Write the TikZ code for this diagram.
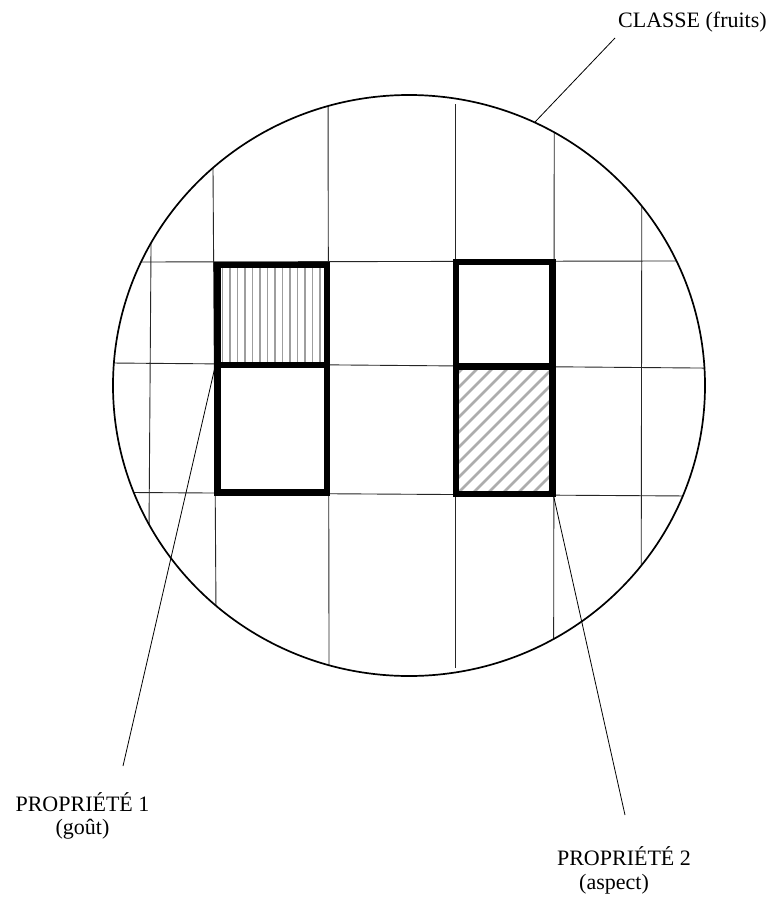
\documentclass[tikz,border=0pt]{standalone}
\usepackage{fontspec}
\setmainfont{Liberation Serif}
\tikzset{
  rim/.style={line width=1.7pt, black},
  gridline/.style={line width=0.9pt, black!85},
  boxline/.style={line width=6.5pt, black, line join=miter},
  leader/.style={line width=0.8pt, black},
  vhatch/.style={line width=1.5pt, black!38},
  dhatch/.style={line width=2.8pt, black!32},
  lbl/.style={font=\fontsize{22}{24}\selectfont, inner sep=0pt}
}
\begin{document}
\begin{tikzpicture}[x=1pt,y=-1pt]
\fill[white] (0,0) rectangle (776,897);
\useasboundingbox (0,0) rectangle (776,897);

% class circle
\coordinate (c) at (409,385.5);

% grid (clipped to the circle)
\begin{scope}
  \clip (c) ellipse [x radius=296pt, y radius=290.5pt];
  % horizontals
  \draw[gridline] (100,262.07) -- (720,260.9);
  \draw[gridline] (100,362.9) -- (720,368.2);
  \draw[gridline] (100,492.3) -- (720,496.2);
  % verticals
  \draw[gridline] (152.2,80) -- (147.8,700);
  \draw[gridline] (212.4,80) -- (216.6,700);
  \draw[gridline] (328,80) -- (329.1,700);
  \draw[gridline] (455,104) -- (455,668);
  \draw[gridline] (554.3,80) -- (553.6,700);
  \draw[gridline] (642,80) -- (641,700);
\end{scope}

% hatched cells
\coordinate (lb-tl) at (217.5,265);
\coordinate (lb-br) at (327,492.5);
\coordinate (lb-ml) at (217.5,365);
\coordinate (lb-mr) at (327,365);
\coordinate (rb-tl) at (456,262);
\coordinate (rb-br) at (552.5,494);
\coordinate (rb-ml) at (456,366.7);
\coordinate (rb-mr) at (552.5,366.7);

\begin{scope}
  \clip (lb-tl) rectangle (lb-mr);
  \foreach \k in {0,...,13}
    \draw[vhatch] (222.7+7.5*\k,260) -- (222.7+7.5*\k,370);
\end{scope}
\begin{scope}
  \clip (rb-ml) rectangle (rb-br);
  \foreach \k in {0,...,16}
    \draw[dhatch] (316+15*\k,500) -- (456+15*\k,360);
\end{scope}

% property boxes
\draw[boxline] (lb-tl) rectangle (lb-br);
\draw[boxline] (lb-ml) -- (lb-mr);
\draw[boxline] (rb-tl) rectangle (rb-br);
\draw[boxline] (rb-ml) -- (rb-mr);

% rim
\draw[rim] (c) ellipse [x radius=296pt, y radius=290.5pt];

% labels
\node[lbl, anchor=base west] (classe) at (618,27) {CLASSE (fruits)};
\node[lbl, anchor=base] (p1) at (82.5,811) {PROPRIÉTÉ 1};
\node[lbl, anchor=base] (p1b) at (82.5,834) {(goût)};
\node[lbl, anchor=base] (p2) at (624,865) {PROPRIÉTÉ 2};
\node[lbl, anchor=base] (p2b) at (614,889) {(aspect)};

% leaders
\coordinate (rimpt) at (535,122);
\coordinate (classeend) at (615,38);
\coordinate (p1end) at (123,766);
\coordinate (p2end) at (625,815);
\coordinate (p2start) at (553.5,495.5);
\coordinate (p1start) at (215,367);
\draw[leader] (rimpt) -- (classeend);
\draw[leader] (p1start) -- (p1end);
\draw[leader] (p2start) -- (p2end);
\end{tikzpicture}
\end{document}
